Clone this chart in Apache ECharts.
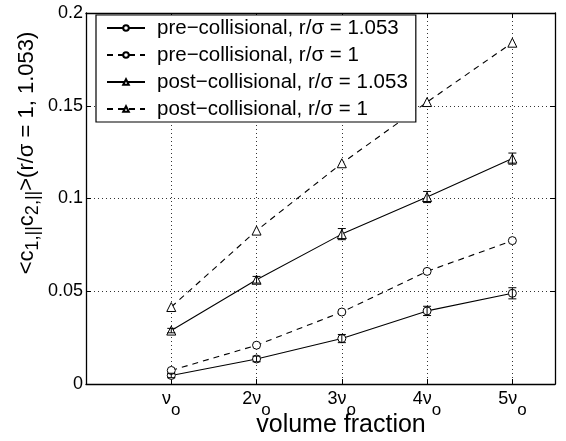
<!DOCTYPE html>
<html><head><meta charset="utf-8">
<script src="https://cdn.jsdelivr.net/npm/echarts@6/dist/echarts.min.js"></script>
<style>html,body{margin:0;padding:0;background:#fff}#c{width:566px;height:441px}</style>
</head><body><div id="c"></div>
<script>
const xVals = [1, 2, 3, 4, 5];
const xTickLabels = ['ν', '2ν', '3ν', '4ν', '5ν'];
const seriesNames = ['pre\u2212collisional, r/σ = 1.053', 'pre\u2212collisional, r/σ = 1', 'post\u2212collisional, r/σ = 1.053', 'post\u2212collisional, r/σ = 1'];
const preR1053 = [0.0046, 0.0135, 0.0245, 0.0394, 0.0489];
const preR1 = [0.0073, 0.0209, 0.0388, 0.0607, 0.0773];
const postR1053 = [0.0288, 0.0562, 0.0808, 0.1008, 0.1215];
const postR1 = [0.0415, 0.0827, 0.1190, 0.1520, 0.1840];
const preR1053Err = [0.0012, 0.0015, 0.0022, 0.0025, 0.003];
const postR1053Err = [0.0012, 0.0018, 0.003, 0.003, 0.003];

const FONT = "'Liberation Sans', Arial, Helvetica, sans-serif";
const chart = echarts.init(document.getElementById('c'), null, {renderer: 'canvas'});

function pairs(vals) { return xVals.map((x, i) => [x, vals[i]]); }
function errData(vals, errs) { return xVals.map((x, i) => [x, vals[i] - errs[i], vals[i] + errs[i]]); }
function errRender(params, api) {
  const x = api.value(0);
  const lo = api.coord([x, api.value(1)]);
  const hi = api.coord([x, api.value(2)]);
  const w = 4;
  const st = {stroke: '#000', lineWidth: 1};
  return {type: 'group', children: [
    {type: 'line', shape: {x1: lo[0], y1: lo[1], x2: hi[0], y2: hi[1]}, style: st},
    {type: 'line', shape: {x1: lo[0]-w, y1: lo[1], x2: lo[0]+w, y2: lo[1]}, style: st},
    {type: 'line', shape: {x1: hi[0]-w, y1: hi[1], x2: hi[0]+w, y2: hi[1]}, style: st}
  ]};
}
function lineSeries(name, vals, dashed, symbol) {
  return {
    name, type: 'line', data: pairs(vals), xAxisIndex: 0, yAxisIndex: 0,
    symbol, symbolSize: symbol === 'circle' ? 8 : 9,
    lineStyle: {color: '#000', width: 1.1, type: dashed ? [6, 5] : 'solid'},
    itemStyle: {color: '#fff', borderColor: '#000', borderWidth: 1},
    emphasis: {disabled: true}, animation: false, z: 3
  };
}

const option = {
  backgroundColor: '#fff',
  animation: false,
  textStyle: {fontFamily: FONT},
  grid: {left: 86, right: 11, top: 13, bottom: 57, show: false},
  legend: {
    show: true, orient: 'vertical', left: 96, top: 15,
    backgroundColor: '#fff', borderColor: '#000', borderWidth: 1.2, borderRadius: 0,
    padding: [1, 8, 1, 10], itemGap: 3, itemWidth: 38, itemHeight: 7,
    textStyle: {fontFamily: FONT, fontSize: 20.5, color: '#000', lineHeight: 24, padding: [0, 0, 0, 7]},
    data: seriesNames
  },
  graphic: [
    {
      type: 'text', x: 27, y: 153, rotation: Math.PI / 2, z: 10,
      style: {
        text: '{t|<c}{b|1,||}{t|c}{b|2,||}{t|>(r/σ = 1, 1.053)}',
        align: 'center', verticalAlign: 'middle',
        rich: {
          t: {fontFamily: FONT, fontSize: 22, fill: '#000'},
          b: {fontFamily: FONT, fontSize: 18, fill: '#000', padding: [12, 0, 0, 0]}
        }
      }
    },
    {
      type: 'text', x: 341, y: 425, z: 10,
      style: {text: 'volume fraction', align: 'center', verticalAlign: 'middle', fontFamily: FONT, fontSize: 25, fill: '#000'}
    }
  ],
  xAxis: [{
    type: 'value', min: 0, max: 5.5, interval: 1,
    axisLine: {show: true, onZero: false, lineStyle: {color: '#000', width: 1.3}},
    axisTick: {show: true, inside: true, length: 5, lineStyle: {color: '#000'}},
    splitLine: {show: true, lineStyle: {color: '#333', type: [1, 3], width: 1}},
    axisLabel: {
      margin: 6, color: '#000',
      formatter: v => (v >= 1 && v <= 5 && Number.isInteger(v)) ? '{a|' + xTickLabels[v - 1] + '}{s|o}' : '',
      rich: {
        a: {fontFamily: FONT, fontSize: 18, color: '#000', verticalAlign: 'top', padding: [0, 0, 0, 0]},
        s: {fontFamily: FONT, fontSize: 17, color: '#000', verticalAlign: 'top', padding: [12, 0, 0, 0]}
      }
    }
  }, {
    type: 'value', min: 0, max: 5.5, interval: 1, position: 'top',
    axisLine: {show: true, onZero: false, lineStyle: {color: '#000', width: 1.3}},
    axisTick: {show: true, inside: true, length: 5, lineStyle: {color: '#000'}},
    axisLabel: {show: false}, splitLine: {show: false}
  }],
  yAxis: [{
    type: 'value', min: 0, max: 0.2, interval: 0.05,
    axisLine: {show: true, onZero: false, lineStyle: {color: '#000', width: 1.3}},
    axisTick: {show: true, inside: true, length: 5, lineStyle: {color: '#000'}},
    splitLine: {show: true, lineStyle: {color: '#333', type: [1, 3], width: 1}},
    axisLabel: {
      margin: 3, color: '#000', fontFamily: FONT, fontSize: 18,
      formatter: v => v === 0 ? '0' : String(+v.toFixed(2))
    }
  }, {
    type: 'value', min: 0, max: 0.2, interval: 0.05, position: 'right',
    axisLine: {show: true, onZero: false, lineStyle: {color: '#000', width: 1.3}},
    axisTick: {show: true, inside: true, length: 5, lineStyle: {color: '#000'}},
    axisLabel: {show: false}, splitLine: {show: false}
  }],
  series: [
    lineSeries(seriesNames[0], preR1053, false, 'circle'),
    lineSeries(seriesNames[1], preR1, true, 'circle'),
    lineSeries(seriesNames[2], postR1053, false, 'triangle'),
    lineSeries(seriesNames[3], postR1, true, 'triangle'),
    {type: 'custom', data: errData(preR1053, preR1053Err), renderItem: errRender, z: 4, silent: true, animation: false},
    {type: 'custom', data: errData(postR1053, postR1053Err), renderItem: errRender, z: 4, silent: true, animation: false}
  ]
};
chart.setOption(option);
</script></body></html>
